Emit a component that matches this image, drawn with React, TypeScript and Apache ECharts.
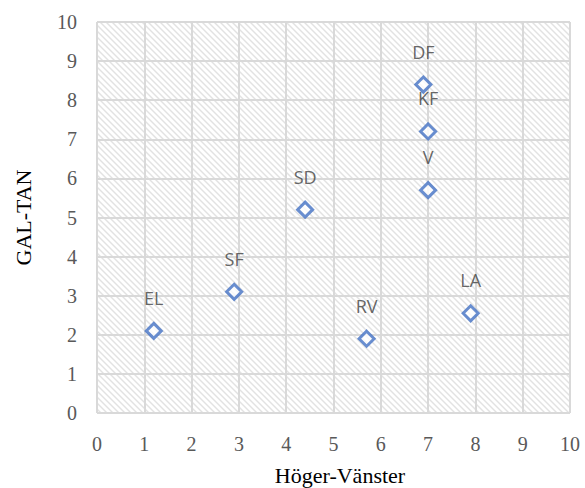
import React, { useEffect, useRef } from "react";
import * as echarts from "echarts";

const partyNames = ["EL", "SF", "SD", "RV", "DF", "KF", "V", "LA"];
const hogerVanster = [1.2, 2.9, 4.4, 5.7, 6.9, 7.0, 7.0, 7.9];
const galTan = [2.1, 3.1, 5.2, 1.9, 8.4, 7.2, 5.7, 2.55];
const xAxisTitle = "Höger-Vänster";
const yAxisTitle = "GAL-TAN";

function makeHatch(): string {
  const s = 6;
  const c = document.createElement("canvas");
  c.width = s;
  c.height = s;
  const ctx = c.getContext("2d")!;
  ctx.fillStyle = "#ffffff";
  ctx.fillRect(0, 0, s, s);
  ctx.strokeStyle = "#e2e2e2";
  ctx.lineWidth = 1.4;
  for (let k = -s; k <= s; k += s) {
    ctx.beginPath();
    ctx.moveTo(k - 2, -2);
    ctx.lineTo(k + s + 2, s + 2);
    ctx.stroke();
  }
  return c.toDataURL();
}

export default function App() {
  const ref = useRef<HTMLDivElement>(null);
  useEffect(() => {
    document.body.style.margin = "0";
    const chart = echarts.init(ref.current!, undefined, { renderer: "svg" });
    const data = partyNames.map((n, i) => ({ name: n, value: [hogerVanster[i], galTan[i]] }));
    const serif = "'Liberation Serif', 'Times New Roman', serif";
    chart.setOption({
      animation: false,
      backgroundColor: "#ffffff",
      grid: {
        left: 97,
        right: 15,
        top: 22,
        bottom: 75,
        containLabel: false,
        outerBoundsMode: "none",
        show: true,
        borderWidth: 0,
        backgroundColor: { image: makeHatch(), repeat: "repeat" },
      },
      xAxis: {
        type: "value",
        min: 0,
        max: 10,
        interval: 1,
        name: xAxisTitle,
        nameLocation: "middle",
        nameGap: 51,
        nameTextStyle: { fontFamily: serif, fontSize: 22, color: "#000000", padding: [0, 0, 0, 13] },
        axisLine: { show: false },
        axisTick: { show: false },
        axisLabel: { fontFamily: serif, fontSize: 20, color: "#595959", margin: 21 },
        splitLine: { show: true, lineStyle: { color: "#d9d9d9", width: 2 } },
      },
      yAxis: {
        type: "value",
        min: 0,
        max: 10,
        interval: 1,
        name: yAxisTitle,
        nameLocation: "middle",
        nameGap: 63,
        nameTextStyle: { fontFamily: serif, fontSize: 22, color: "#000000" },
        axisLine: { show: false },
        axisTick: { show: false },
        axisLabel: { fontFamily: serif, fontSize: 20, color: "#595959", margin: 20 },
        splitLine: { show: true, lineStyle: { color: "#d9d9d9", width: 2 } },
      },
      series: [
        {
          type: "scatter",
          data,
          symbol: "diamond",
          symbolSize: 15,
          itemStyle: { color: "#ffffff", borderColor: "#4472C4", borderWidth: 3 },
          label: {
            show: true,
            position: "top",
            distance: 15,
            formatter: (p: any) => p.name,
            fontFamily: "'Open Sans', 'Noto Sans', sans-serif",
            fontSize: 18,
            color: "#404040",
          },
        },
      ],
    });
    return () => chart.dispose();
  }, []);
  return <div ref={ref} style={{ width: 585, height: 488 }} />;
}
